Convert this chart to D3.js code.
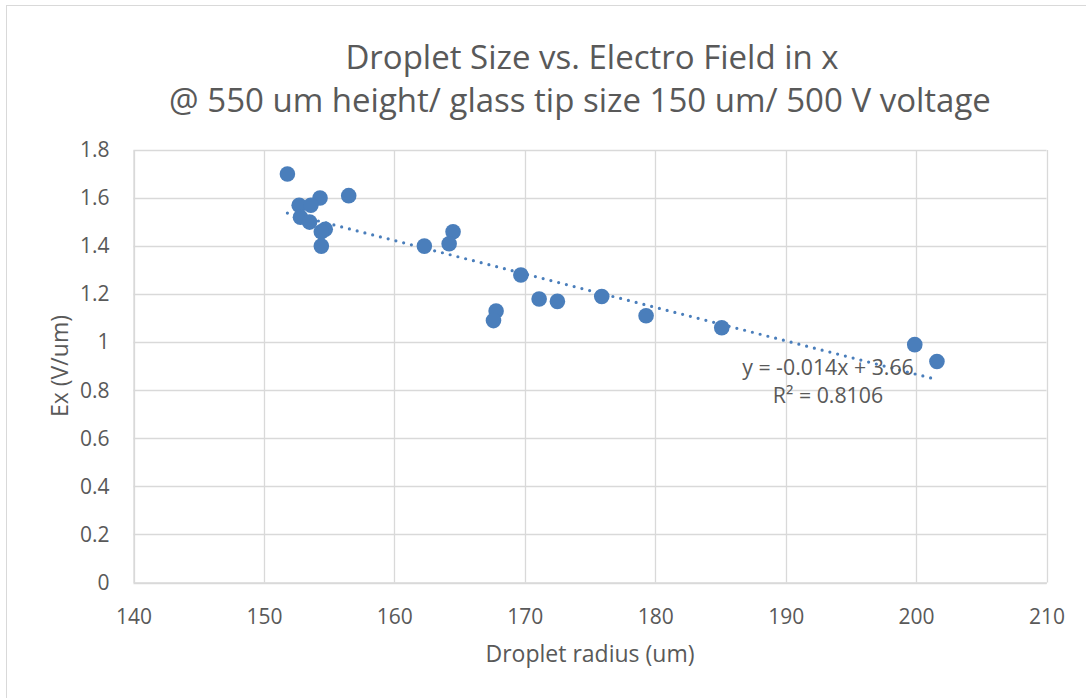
<!DOCTYPE html>
<html lang="en">
<head>
    <meta charset="UTF-8">
    <title>Droplet Size vs. Electro Field in x</title>
    <script src="https://d3js.org/d3.v7.min.js"></script>
    <style>
        body { margin: 0; background: #fff; }
        text { font-family: "Open Sans", "Noto Sans", sans-serif; fill: #595959; }
    </style>
</head>
<body>
    <div id="chart"></div>

    <script>
        // Droplet radius (um) and Ex (V/um)
        var radius = [151.8, 154.3, 156.5, 152.7, 153.6, 152.8, 153.5, 154.7, 154.4, 154.4,
                      162.3, 164.5, 164.2, 169.7, 167.8, 167.6, 171.1, 172.5, 175.9, 179.3,
                      185.1, 199.9, 201.6];
        var ex = [1.70, 1.60, 1.61, 1.57, 1.57, 1.52, 1.50, 1.47, 1.46, 1.40,
                  1.40, 1.46, 1.41, 1.28, 1.13, 1.09, 1.18, 1.17, 1.19, 1.11,
                  1.06, 0.99, 0.92];

        var xTicks = [140, 150, 160, 170, 180, 190, 200, 210];
        var yTicks = [0, 0.2, 0.4, 0.6, 0.8, 1, 1.2, 1.4, 1.6, 1.8];

        var titleLines = ["Droplet Size vs. Electro Field in x",
                          "@ 550 um height/ glass tip size 150 um/ 500 V voltage"];
        var trendLabel = ["y = -0.014x + 3.66", "R² = 0.8106"];

        var width = 1086, height = 698;
        var margin = { left: 133.5, right: 1046.5, top: 150, bottom: 582.5 };
        var blue = "#4a7ebb", grid = "#d9d9d9";

        var svg = d3.select("#chart")
            .append("svg")
            .attr("width", width)
            .attr("height", height);

        // chart area border (runs off the right and bottom edge)
        svg.append("rect")
            .attr("x", 6.5).attr("y", 5.5)
            .attr("width", width + 10).attr("height", height + 10)
            .attr("fill", "none").attr("stroke", grid);

        var x = d3.scaleLinear().domain([140, 210]).range([margin.left, margin.right]);
        var y = d3.scaleLinear().domain([0, 1.8]).range([margin.bottom, margin.top]);

        // gridlines
        svg.append("g").selectAll("line")
            .data(yTicks).enter().append("line")
            .attr("x1", margin.left).attr("x2", margin.right)
            .attr("y1", function(d) { return Math.round(y(d)) + 0.5; })
            .attr("y2", function(d) { return Math.round(y(d)) + 0.5; })
            .attr("stroke", grid).attr("stroke-width", 1.3);

        svg.append("g").selectAll("line")
            .data(xTicks).enter().append("line")
            .attr("y1", margin.top).attr("y2", margin.bottom)
            .attr("x1", function(d) { return Math.round(x(d)) + 0.5; })
            .attr("x2", function(d) { return Math.round(x(d)) + 0.5; })
            .attr("stroke", grid).attr("stroke-width", 1.3);

        // axes
        var xAxis = svg.append("g")
            .attr("transform", "translate(0," + margin.bottom + ")")
            .call(d3.axisBottom(x).tickValues(xTicks).tickSize(0).tickPadding(27));
        var yAxis = svg.append("g")
            .attr("transform", "translate(" + margin.left + ",0)")
            .call(d3.axisLeft(y).tickValues(yTicks).tickSize(0).tickPadding(24)
                .tickFormat(d3.format("")));
        [xAxis, yAxis].forEach(function(a) {
            a.select(".domain").attr("stroke", grid).attr("stroke-width", 1.3);
            a.selectAll("text").attr("font-size", 21).attr("font-family", null).attr("fill", "#595959");
        });

        // least squares trend line
        var mx = d3.mean(radius), my = d3.mean(ex);
        var sxy = d3.sum(radius, function(v, i) { return (v - mx) * (ex[i] - my); });
        var sxx = d3.sum(radius, function(v) { return (v - mx) * (v - mx); });
        var slope = sxy / sxx, icpt = my - slope * mx;
        var ends = d3.extent(radius);

        svg.append("line")
            .attr("x1", x(ends[0])).attr("y1", y(slope * ends[0] + icpt))
            .attr("x2", x(ends[1])).attr("y2", y(slope * ends[1] + icpt))
            .attr("stroke", blue).attr("stroke-width", 3.2)
            .attr("stroke-linecap", "round")
            .attr("stroke-dasharray", "0 8");

        // points
        svg.append("g").selectAll("circle")
            .data(radius).enter().append("circle")
            .attr("cx", function(d) { return x(d); })
            .attr("cy", function(d, i) { return y(ex[i]); })
            .attr("r", 7.8)
            .attr("fill", blue);

        // trend label
        svg.append("g").selectAll("text")
            .data(trendLabel).enter().append("text")
            .attr("x", 828)
            .attr("y", function(d, i) { return 375 + i * 28; })
            .attr("text-anchor", "middle")
            .attr("font-size", 21.3)
            .text(function(d) { return d; });

        // title
        svg.append("g").selectAll("text")
            .data(titleLines).enter().append("text")
            .attr("x", function(d, i) { return i === 0 ? 592 : 580; })
            .attr("y", function(d, i) { return 69 + i * 43; })
            .attr("text-anchor", "middle")
            .attr("font-size", 33)
            .text(function(d) { return d; });

        // axis titles
        svg.append("text")
            .attr("x", 590).attr("y", 662)
            .attr("text-anchor", "middle")
            .attr("font-size", 23)
            .text("Droplet radius (um)");

        svg.append("text")
            .attr("transform", "translate(68,366) rotate(-90)")
            .attr("text-anchor", "middle")
            .attr("font-size", 23)
            .text("Ex (V/um)");
    </script>
</body>
</html>
